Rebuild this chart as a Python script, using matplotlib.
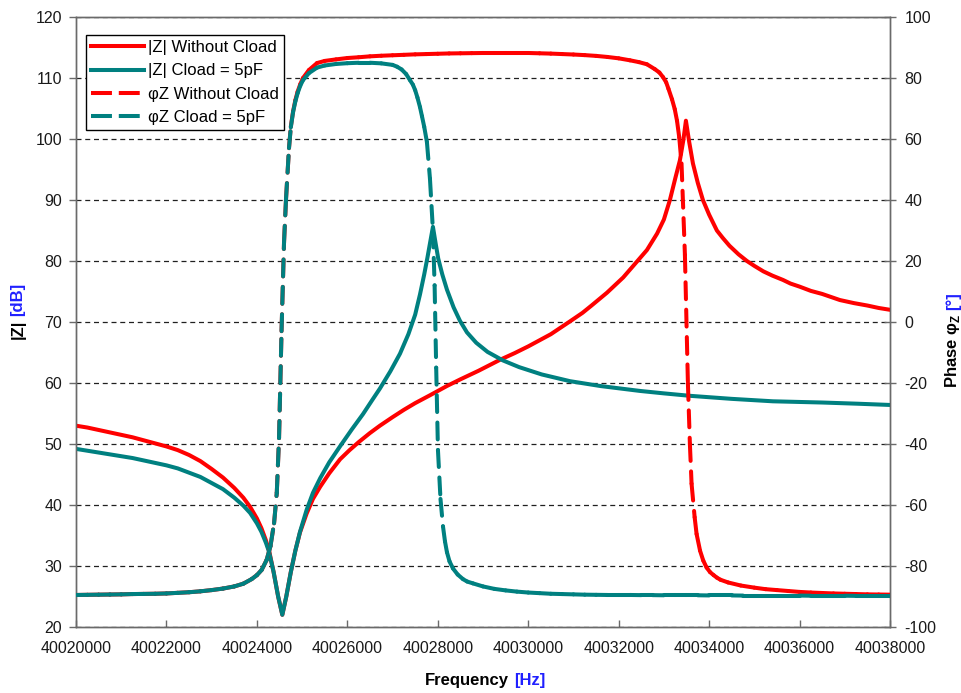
import numpy as np
import matplotlib
matplotlib.use("Agg")
import matplotlib.pyplot as plt
from matplotlib.collections import LineCollection
from matplotlib.lines import Line2D

plt.rcParams['font.family'] = ['Liberation Sans', 'DejaVu Sans']
plt.rcParams['mathtext.fontset'] = 'custom'
plt.rcParams['mathtext.rm'] = 'Liberation Sans'
plt.rcParams['mathtext.bf'] = 'Liberation Sans:bold'
plt.rcParams['axes.unicode_minus'] = False

# ---------------- data ----------------
F0 = 40020000  # Hz, left end of the frequency axis

x_ticks = [40020000, 40022000, 40024000, 40026000, 40028000,
           40030000, 40032000, 40034000, 40036000, 40038000]
x_tick_labels = ["40020000", "40022000", "40024000", "40026000", "40028000",
                 "40030000", "40032000", "40034000", "40036000", "40038000"]
z_ticks = [20, 30, 40, 50, 60, 70, 80, 90, 100, 110, 120]
ph_ticks = [-100, -80, -60, -40, -20, 0, 20, 40, 60, 80, 100]

labels = ["|Z| Without Cload", "|Z| Cload = 5pF", "φZ Without Cload", "φZ Cload = 5pF"]

# |Z| without Cload (offset from F0 in Hz, dB)
df_z_nocl = [0, 250, 500, 750, 1000, 1250, 1500, 1750, 2000, 2250, 2500, 2750,
             3000, 3250, 3500, 3700, 3850, 4000, 4100, 4200, 4270, 4370, 4470,
             4562, 4650, 4750, 4850, 4953, 5100, 5240, 5400, 5600, 5840, 6050,
             6250, 6500, 6720, 7000, 7250, 7500, 7830, 8200, 8500, 8900, 9375,
             9700, 10000, 10500, 10923, 11200, 11400, 11741, 12100, 12404,
             12625, 12850, 13000, 13133, 13250, 13354, 13430, 13487, 13560,
             13642, 13750, 13863, 14000, 14172, 14300, 14450, 14650, 14836,
             15000, 15200, 15400, 15632, 15800, 16000, 16250, 16500, 16892,
             17200, 17500, 17750, 18000]
z_nocl = [53.0, 52.7, 52.3, 51.9, 51.5, 51.1, 50.6, 50.1, 49.6, 49.0, 48.2, 47.2,
          45.9, 44.5, 42.8, 41.2, 39.7, 37.8, 36.2, 34.2, 32.5, 29.0, 25.0,
          22.0, 25.0, 29.0, 32.5, 35.5, 38.6, 41.0, 43.0, 45.2, 47.5, 49.0,
          50.3, 51.8, 53.0, 54.4, 55.6, 56.7, 58.0, 59.5, 60.6, 62.0, 63.8,
          64.9, 66.0, 68.0, 70.1, 71.5, 72.7, 74.8, 77.3, 79.9,
          81.8, 84.5, 86.8, 90.0, 93.5, 96.5, 99.8, 103.0, 99.5,
          96.0, 92.8, 90.0, 87.6, 85.0, 83.8, 82.5, 81.1, 80.0,
          79.2, 78.3, 77.6, 76.9, 76.3, 75.8, 75.1, 74.6, 73.6,
          73.1, 72.7, 72.3, 72.0]

# |Z| with Cload = 5pF
df_z_cl = [0, 250, 500, 750, 1000, 1250, 1500, 1750, 2000, 2250, 2500, 2750,
           3000, 3250, 3500, 3700, 3850, 4000, 4100, 4200, 4270, 4370, 4470,
           4562, 4650, 4750, 4850, 4953, 5100, 5240, 5400, 5600, 5837, 6100,
           6346, 6550, 6721, 6950, 7164, 7350, 7500, 7606, 7700, 7770, 7830,
           7893, 7950, 8010, 8100, 8203, 8350, 8490, 8645, 8850, 9100, 9441,
           9800, 10300, 10923, 11600, 12470, 13000, 13575, 14500, 15410,
           16500, 17300, 18000]
z_cl = [49.2, 48.9, 48.6, 48.3, 48.0, 47.7, 47.3, 46.9, 46.5, 46.0, 45.3, 44.6,
        43.6, 42.6, 41.2, 39.9, 38.7, 37.0, 35.6, 33.8, 32.3, 29.0, 25.0,
        22.0, 25.0, 29.0, 32.5, 35.6, 39.2, 42.0, 44.4, 47.0, 49.6, 52.4,
        54.9, 57.2, 59.1, 61.9, 64.8, 68.0, 71.2, 74.5, 77.8, 80.5, 83.0,
        85.6, 83.0, 80.4, 77.8, 75.3, 72.4, 70.2, 68.3, 66.6, 65.1, 63.7,
        62.6, 61.4, 60.3, 59.5, 58.7, 58.3, 57.9, 57.4, 57.0,
        56.8, 56.6, 56.4]

# phase without Cload (degrees)
df_ph_nocl = [0, 250, 500, 750, 1000, 1250, 1500, 1750, 2000, 2250, 2500, 2750,
              3000, 3250, 3500, 3700, 3884, 4000, 4105, 4216, 4300, 4380, 4440,
              4490, 4545, 4600, 4643, 4710, 4750, 4800, 4850, 4900, 4960, 5020,
              5150, 5330, 5500, 5750, 6000, 6250, 6500, 6750, 7000, 7250, 7500,
              7750, 8000, 8250, 8500, 8750, 9000, 9250, 9500, 9750, 10000, 10250,
              10500, 10750, 11000, 11250, 11500, 11750, 12000, 12250, 12450,
              12625, 12800, 12900, 12980, 13050, 13100, 13180, 13240, 13290,
              13340, 13390, 13465, 13531, 13575, 13612, 13680, 13723, 13800,
              13870, 13944, 14020, 14100, 14170, 14250, 14420, 14700, 15000,
              15250, 15500, 15750, 16000, 16250, 16500, 16750, 17000, 17250,
              17500, 17750, 18000]
ph_nocl = [-89.5, -89.45, -89.4, -89.35, -89.3, -89.2, -89.15, -89.1, -89.0, -88.8, -88.6, -88.3,
           -87.9, -87.4, -86.7, -85.8, -84.3, -83.0, -81.3, -78.0, -73.5, -66.0, -56.0,
           -38.0, -3.0, 26.0, 40.0, 57.0, 64.0, 69.0, 72.7, 75.5, 78.0, 80.0,
           82.6, 84.9, 85.6, 86.1, 86.55, 86.8, 87.1, 87.3, 87.45, 87.6, 87.75,
           87.85, 87.95, 88.05, 88.1, 88.15, 88.2, 88.2, 88.2, 88.2, 88.2, 88.1,
           88.0, 87.85, 87.7, 87.5, 87.25, 86.9, 86.45, 85.8, 85.2,
           84.5, 82.9, 81.8, 80.3, 78.6, 76.5, 73.0, 69.8, 66.0,
           60.5, 52.0, 22.0, -20.0, -40.0, -53.0, -64.0, -69.5, -75.0,
           -78.2, -80.5, -82.0, -83.0, -83.8, -84.5, -85.4, -86.4, -87.1,
           -87.6, -87.9, -88.2, -88.5, -88.7, -88.85, -89.0, -89.1, -89.2,
           -89.3, -89.35, -89.4]

# phase with Cload = 5pF (degrees)
df_ph_cl = [0, 250, 500, 750, 1000, 1250, 1500, 1750, 2000, 2250, 2500, 2750,
            3000, 3250, 3500, 3700, 3884, 4000, 4105, 4216, 4300, 4380, 4440,
            4490, 4545, 4600, 4643, 4710, 4750, 4800, 4850, 4900, 4960, 5020,
            5150, 5330, 5500, 5750, 6000, 6250, 6500, 6750, 7000, 7100, 7200,
            7300, 7385, 7450, 7500, 7550, 7606, 7650, 7700, 7760, 7827, 7893,
            7930, 7965, 8004, 8060, 8115, 8160, 8203, 8260, 8336, 8440, 8557,
            8650, 8778, 9000, 9250, 9500, 9750, 10000, 10250, 10500, 10750,
            11000, 11250, 11500, 11750, 12000, 12250, 12500, 12750, 13000,
            13250, 13500, 13750, 14000, 14250, 14500, 14750, 15000, 15250,
            15500, 15750, 16000, 16250, 16500, 16750, 17000, 17250, 17500,
            17750, 18000]
ph_cl = [-89.5, -89.45, -89.4, -89.35, -89.3, -89.2, -89.15, -89.1, -89.0, -88.8, -88.6, -88.3,
         -87.9, -87.4, -86.7, -85.8, -84.3, -83.0, -81.3, -78.0, -73.5, -66.0, -56.0,
         -38.0, -3.0, 26.0, 40.0, 57.0, 63.8, 68.8, 72.3, 75.0, 77.5, 79.3,
         81.6, 83.4, 84.1, 84.6, 84.85, 85.0, 85.0, 84.8, 84.3, 83.7, 82.8,
         81.3, 79.3, 77.8, 76.0, 73.6, 70.5, 67.5, 64.0, 59.0, 47.0, 30.0,
         12.0, -15.0, -42.0, -58.0, -67.0, -72.0, -75.5, -78.5, -80.8, -82.8, -84.3,
         -85.1, -85.7, -86.7, -87.5, -88.0, -88.4, -88.7, -88.9, -89.1, -89.2,
         -89.3, -89.4, -89.45, -89.5, -89.5, -89.5, -89.55, -89.55, -89.6,
         -89.6, -89.6, -89.6, -89.65, -89.65, -89.65, -89.7, -89.7, -89.7,
         -89.7, -89.7, -89.7, -89.75, -89.75, -89.75, -89.75, -89.8, -89.8,
         -89.8, -89.8]

# ---------------- styling ----------------
RED = '#FF0000'
TEAL = '#008080'
BLUE = '#2020FF'
LW = 2.9
DASH = (0, (4.2, 2.6))          # per-segment dashes (round caps add length)
LEG_DASH = (0, (5.2, 1.7))
AXC = '#6a6a6a'
TXT = '#1a1a1a'

fig = plt.figure(figsize=(9.62, 6.93), dpi=100)
ax1 = fig.add_axes([76/962, 1 - 627/693, 814/962, 610/693])
ax2 = ax1.twinx()

f_z_nocl = F0 + np.array(df_z_nocl, dtype=float)
f_z_cl = F0 + np.array(df_z_cl, dtype=float)
f_ph_nocl = F0 + np.array(df_ph_nocl, dtype=float)
f_ph_cl = F0 + np.array(df_ph_cl, dtype=float)

ax1.plot(f_z_nocl, z_nocl, color=RED, lw=LW, solid_joinstyle='round', zorder=3)
ax1.plot(f_z_cl, z_cl, color=TEAL, lw=LW, solid_joinstyle='round', zorder=4)


def dashed_series(ax, f, v, color, z):
    pts = np.column_stack([f, np.asarray(v, dtype=float)])
    segs = np.stack([pts[:-1], pts[1:]], axis=1)
    lc = LineCollection(segs, colors=color, linewidths=LW, linestyles=[DASH],
                        capstyle='round', zorder=z)
    ax.add_collection(lc)


dashed_series(ax2, f_ph_nocl, ph_nocl, RED, 3)
dashed_series(ax2, f_ph_cl, ph_cl, TEAL, 4)

ax1.set_xlim(40020000, 40038000)
ax1.set_ylim(20, 120)
ax2.set_ylim(-100, 100)
ax1.set_xticks(x_ticks)
ax1.set_xticklabels(x_tick_labels)
ax1.set_yticks(z_ticks)
ax2.set_yticks(ph_ticks)
ax1.minorticks_off()
ax2.minorticks_off()

ax1.yaxis.grid(True, color='#202020', linestyle=(0, (4, 3)), lw=0.9)
ax1.set_axisbelow(True)

for ax in (ax1, ax2):
    for s in ax.spines.values():
        s.set_color(AXC)
        s.set_linewidth(1.0)

ax1.tick_params(axis='y', direction='out', length=5, width=1, color=AXC,
                labelcolor=TXT, labelsize=11.5, pad=5)
ax1.tick_params(axis='x', direction='in', length=5, width=1, color=AXC,
                labelcolor=TXT, labelsize=11.5, pad=10)
ax2.tick_params(axis='y', direction='inout', length=9, width=1, color=AXC,
                labelcolor=TXT, labelsize=11.5, pad=6)

# axis titles (two-colour)
fig.text(509/962, 1 - 681/693, 'Frequency', ha='right', va='center',
         fontsize=12, fontweight='bold', color='black')
fig.text(514/962, 1 - 681/693, '[Hz]', ha='left', va='center',
         fontsize=12, fontweight='bold', color=BLUE)

ysplit = 1 - 318/693
fig.text(18/962, ysplit - 0.003, '|Z|', rotation=90, ha='center', va='top',
         fontsize=12, fontweight='bold', color='black')
fig.text(18/962, ysplit + 0.003, '[dB]', rotation=90, ha='center', va='bottom',
         fontsize=12, fontweight='bold', color=BLUE)

ysplit2 = 1 - 312/693
fig.text(953/962, ysplit2 - 0.003, r'Phase φ$_\mathbf{Z}$', rotation=90, ha='center',
         va='top', fontsize=12, fontweight='bold', color='black')
fig.text(953/962, ysplit2 + 0.003, '[°]', rotation=90, ha='center', va='bottom',
         fontsize=12, fontweight='bold', color=BLUE)

handles = [Line2D([], [], color=RED, lw=LW),
           Line2D([], [], color=TEAL, lw=LW),
           Line2D([], [], color=RED, lw=LW, ls=LEG_DASH),
           Line2D([], [], color=TEAL, lw=LW, ls=LEG_DASH)]
leg = ax2.legend(handles, labels, loc='upper left',
                 bbox_to_anchor=((86 - 76) / 814, (627 - 35) / 610),
                 bbox_transform=ax2.transAxes, frameon=True, fancybox=False,
                 edgecolor='black', framealpha=1, borderpad=0.3,
                 labelspacing=0.5, handlelength=3.2, handletextpad=0.2,
                 borderaxespad=0, prop={'size': 12})
leg.get_frame().set_linewidth(1.0)
leg.set_zorder(10)

fig.savefig('out.png', dpi=100)
